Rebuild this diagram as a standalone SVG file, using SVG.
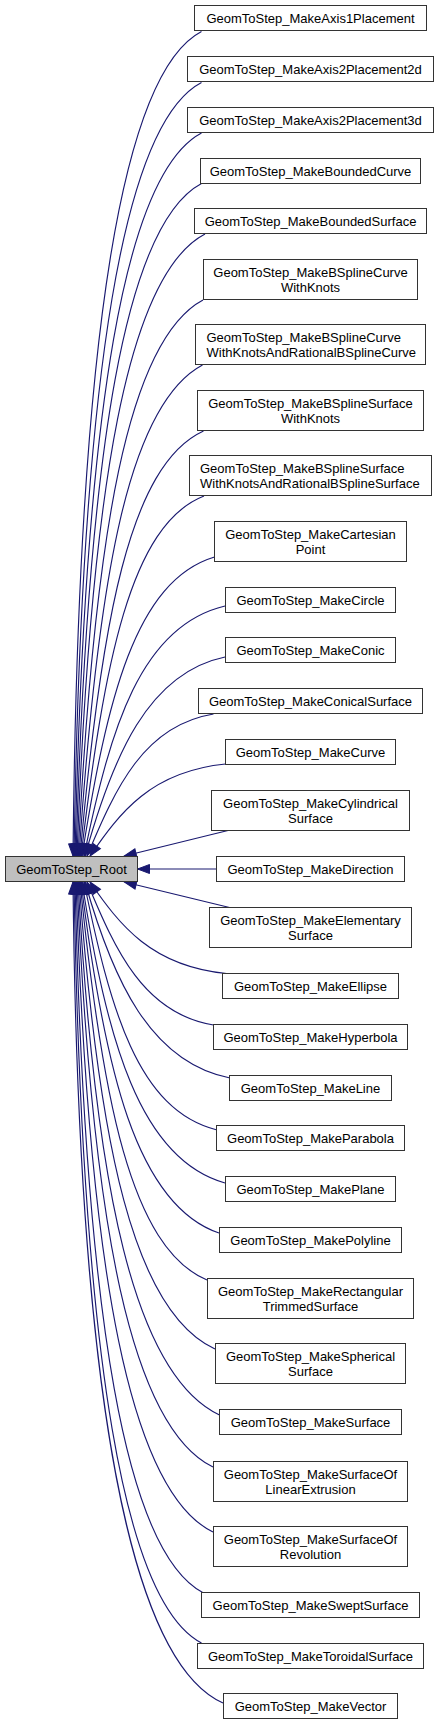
<svg xmlns="http://www.w3.org/2000/svg" width="440" height="1725" viewBox="0 0 440 1725">
<style>
.n rect{fill:#fff;stroke:#333;stroke-width:1}
#root rect{fill:#bfbfbf}
text{font-family:"Liberation Sans",Arial,sans-serif;font-size:13px;fill:#000;text-anchor:middle}
text.l{text-anchor:start}
#edges path{fill:none;stroke:#191970;stroke-width:1.15;marker-end:url(#ah)}
</style>
<defs>
<marker id="ah" markerWidth="12" markerHeight="9" refX="12" refY="4.5" orient="auto" markerUnits="userSpaceOnUse" viewBox="0 0 12 9" overflow="visible"><path d="M0,0 L12,4.5 L0,9 Z" fill="#191970" stroke="#191970" stroke-width="1"/></marker>
</defs>
<g id="edges">
<path d="M201.5,31.5 C124.4,71.5 78.3,320.1 73,856"/>
<path d="M201.5,82.5 C125,122.5 81.7,362 74,856"/>
<path d="M201.5,133 C125.6,173 84.9,403.2 75,856"/>
<path d="M201.5,183.5 C126.2,223.5 88,443.1 76,856"/>
<path d="M205,234 C128.2,274 91,481.7 77,856"/>
<path d="M203,300 C128,340 94.6,530.4 78,856"/>
<path d="M202.5,365 C128.4,404.3 97.9,576.2 79,856"/>
<path d="M203.5,431 C129.4,465 101.1,620.7 80,856"/>
<path d="M204,496 C130.2,524.8 104.1,662.4 81,856"/>
<path d="M214.5,557 C135,580.9 106.9,699.6 82,856"/>
<path d="M225,606 C140.4,626 110.2,728.2 84,856"/>
<path d="M225,657 C148,672.9 112.5,756.8 85,856"/>
<path d="M213.5,714 C143.9,725.4 115.8,787.2 87,856"/>
<path d="M225.5,764 C151,771.4 119.8,812.5 90,856"/>
<path d="M230,830 L124.3,856"/>
<path d="M216.5,869 L137.5,869"/>
<path d="M229.5,907.5 L124.4,882"/>
<path d="M226.5,973.5 C151.4,966.2 119.8,925.2 90,882"/>
<path d="M213.5,1025 C143.9,1013.6 115.7,951.3 87,882"/>
<path d="M230,1078 C150.2,1062.3 112.5,979.6 85,882"/>
<path d="M217,1130 C137.2,1110.2 110.2,1008.6 84,882"/>
<path d="M225,1183 C139.2,1158.9 106.8,1039.5 82,882"/>
<path d="M219,1233 C136.2,1204.9 104.4,1070 81,882"/>
<path d="M207,1280 C130.8,1248.2 102,1099.7 80,882"/>
<path d="M215,1349 C133.4,1311.6 98.7,1145.3 79,882"/>
<path d="M219.5,1415 C134.6,1375 95.4,1191.1 78,882"/>
<path d="M213,1467 C131.4,1427 92.5,1228.7 77,882"/>
<path d="M213,1532 C130.8,1492 88.9,1277.5 76,882"/>
<path d="M203.5,1593 C126.4,1553 85.4,1325.2 75,882"/>
<path d="M201.5,1643 C125,1603 82.2,1365.7 74,882"/>
<path d="M223,1703 C133,1663 78.5,1415.7 73,882"/>
</g>
<g id="n1" class="n"><rect x="194.5" y="5.5" width="232" height="25"/><text x="310.5" y="22.5">GeomToStep_MakeAxis1Placement</text></g>
<g id="n2" class="n"><rect x="187.5" y="56.5" width="246" height="25"/><text x="310.5" y="73.5">GeomToStep_MakeAxis2Placement2d</text></g>
<g id="n3" class="n"><rect x="187.5" y="107.5" width="246" height="25"/><text x="310.5" y="124.5">GeomToStep_MakeAxis2Placement3d</text></g>
<g id="n4" class="n"><rect x="200.5" y="158.5" width="220" height="25"/><text x="310.5" y="175.5">GeomToStep_MakeBoundedCurve</text></g>
<g id="n5" class="n"><rect x="194.5" y="208.5" width="232" height="25"/><text x="310.5" y="225.5">GeomToStep_MakeBoundedSurface</text></g>
<g id="n6" class="n"><rect x="203.5" y="259.5" width="214" height="40"/><text x="310.5" y="276.5">GeomToStep_MakeBSplineCurve</text><text x="310.5" y="291.5">WithKnots</text></g>
<g id="n7" class="n"><rect x="195.5" y="324.5" width="230" height="40"/><text class="l" x="206.5" y="341.5">GeomToStep_MakeBSplineCurve</text><text class="l" x="206.5" y="356.5">WithKnotsAndRationalBSplineCurve</text></g>
<g id="n8" class="n"><rect x="197.5" y="390.5" width="226" height="40"/><text x="310.5" y="407.5">GeomToStep_MakeBSplineSurface</text><text x="310.5" y="422.5">WithKnots</text></g>
<g id="n9" class="n"><rect x="189.5" y="455.5" width="242" height="40"/><text class="l" x="200" y="472.5">GeomToStep_MakeBSplineSurface</text><text class="l" x="200" y="487.5">WithKnotsAndRationalBSplineSurface</text></g>
<g id="n10" class="n"><rect x="214.5" y="521.5" width="192" height="40"/><text x="310.5" y="538.5">GeomToStep_MakeCartesian</text><text x="310.5" y="553.5">Point</text></g>
<g id="n11" class="n"><rect x="225.5" y="587.5" width="170" height="25"/><text x="310.5" y="604.5">GeomToStep_MakeCircle</text></g>
<g id="n12" class="n"><rect x="225.5" y="637.5" width="170" height="25"/><text x="310.5" y="654.5">GeomToStep_MakeConic</text></g>
<g id="n13" class="n"><rect x="198.5" y="688.5" width="224" height="25"/><text x="310.5" y="705.5">GeomToStep_MakeConicalSurface</text></g>
<g id="n14" class="n"><rect x="225.5" y="739.5" width="170" height="25"/><text x="310.5" y="756.5">GeomToStep_MakeCurve</text></g>
<g id="n15" class="n"><rect x="211.5" y="790.5" width="198" height="40"/><text x="310.5" y="807.5">GeomToStep_MakeCylindrical</text><text x="310.5" y="822.5">Surface</text></g>
<g id="root" class="n"><rect x="5.5" y="856.5" width="132" height="25"/><text x="71.5" y="873.5">GeomToStep_Root</text></g>
<g id="n17" class="n"><rect x="216.5" y="856.5" width="188" height="25"/><text x="310.5" y="873.5">GeomToStep_MakeDirection</text></g>
<g id="n18" class="n"><rect x="209.5" y="907.5" width="202" height="40"/><text x="310.5" y="924.5">GeomToStep_MakeElementary</text><text x="310.5" y="939.5">Surface</text></g>
<g id="n19" class="n"><rect x="222.5" y="973.5" width="176" height="25"/><text x="310.5" y="990.5">GeomToStep_MakeEllipse</text></g>
<g id="n20" class="n"><rect x="213.5" y="1024.5" width="194" height="25"/><text x="310.5" y="1041.5">GeomToStep_MakeHyperbola</text></g>
<g id="n21" class="n"><rect x="229.5" y="1075.5" width="162" height="25"/><text x="310.5" y="1092.5">GeomToStep_MakeLine</text></g>
<g id="n22" class="n"><rect x="216.5" y="1125.5" width="188" height="25"/><text x="310.5" y="1142.5">GeomToStep_MakeParabola</text></g>
<g id="n23" class="n"><rect x="225.5" y="1176.5" width="170" height="25"/><text x="310.5" y="1193.5">GeomToStep_MakePlane</text></g>
<g id="n24" class="n"><rect x="219.5" y="1227.5" width="182" height="25"/><text x="310.5" y="1244.5">GeomToStep_MakePolyline</text></g>
<g id="n25" class="n"><rect x="207.5" y="1278.5" width="206" height="40"/><text x="310.5" y="1295.5">GeomToStep_MakeRectangular</text><text x="310.5" y="1310.5">TrimmedSurface</text></g>
<g id="n26" class="n"><rect x="215.5" y="1343.5" width="190" height="40"/><text x="310.5" y="1360.5">GeomToStep_MakeSpherical</text><text x="310.5" y="1375.5">Surface</text></g>
<g id="n27" class="n"><rect x="219.5" y="1409.5" width="182" height="25"/><text x="310.5" y="1426.5">GeomToStep_MakeSurface</text></g>
<g id="n28" class="n"><rect x="213.5" y="1461.5" width="194" height="40"/><text x="310.5" y="1478.5">GeomToStep_MakeSurfaceOf</text><text x="310.5" y="1493.5">LinearExtrusion</text></g>
<g id="n29" class="n"><rect x="213.5" y="1526.5" width="194" height="40"/><text x="310.5" y="1543.5">GeomToStep_MakeSurfaceOf</text><text x="310.5" y="1558.5">Revolution</text></g>
<g id="n30" class="n"><rect x="201.5" y="1592.5" width="218" height="25"/><text x="310.5" y="1609.5">GeomToStep_MakeSweptSurface</text></g>
<g id="n31" class="n"><rect x="197.5" y="1643.5" width="226" height="25"/><text x="310.5" y="1660.5">GeomToStep_MakeToroidalSurface</text></g>
<g id="n32" class="n"><rect x="223.5" y="1693.5" width="174" height="25"/><text x="310.5" y="1710.5">GeomToStep_MakeVector</text></g>
</svg>
